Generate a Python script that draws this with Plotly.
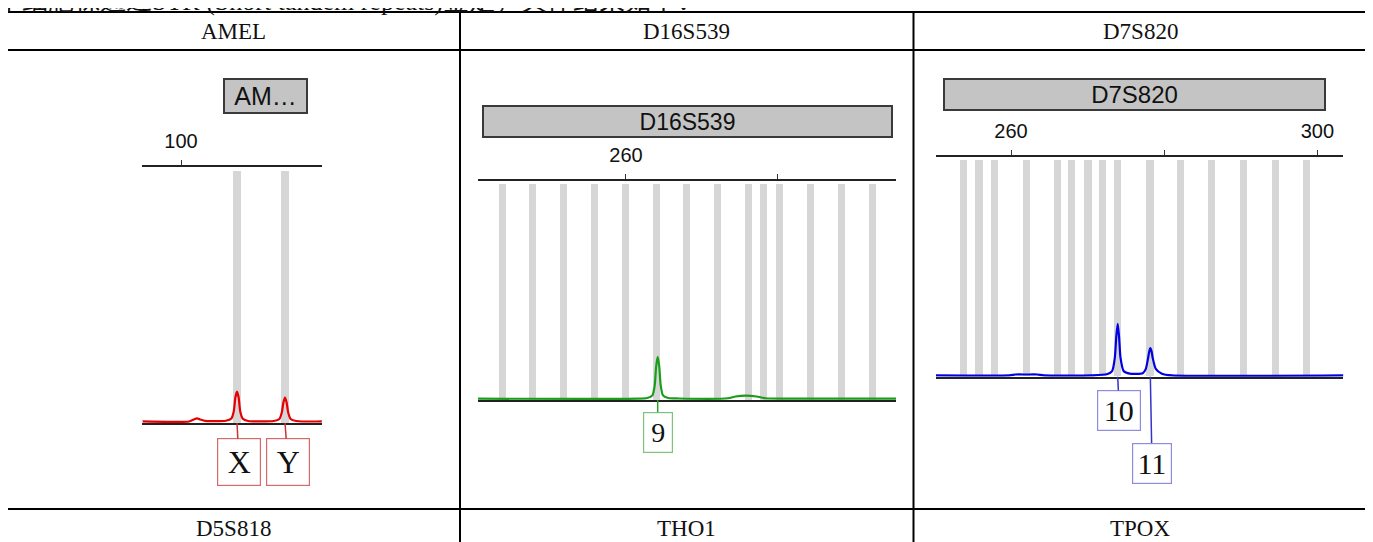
import plotly.graph_objects as go

# ---------------- data ----------------
caption = "本细胞株通过STR (Short tandem repeats)鉴定，具体结果如下："
header_row1 = ["AMEL", "D16S539", "D7S820"]
header_row3 = ["D5S818", "THO1", "TPOX"]
marker_titles = ["AM…", "D16S539", "D7S820"]

# AMEL
amel_bins = [107.0, 113.0]
amel_trace_x = [95.2, 101.0, 101.6, 102.0, 102.4, 103.0, 105.6, 106.3, 106.6, 106.8, 107.0, 107.2, 107.4,
                107.7, 108.4, 111.6, 112.3, 112.6, 112.8, 113.0, 113.2, 113.4, 113.7, 114.4, 117.6]
amel_trace_y = [0, 0, 8, 12, 8, 2, 3, 12, 40, 95, 117, 95, 40, 12, 2, 2, 10, 35, 75, 94, 75, 35, 10, 2, 0]
amel_alleles = ["X", "Y"]
amel_allele_bp = [107.0, 113.0]
amel_tickvals = [100]
amel_ticktext = ["100"]

# D16S539
d16_bins = [243.7, 247.6, 251.7, 255.8, 259.9, 264.0, 268.0, 272.1, 276.2, 278.2, 280.3, 284.4, 288.5, 292.6]
d16_trace_x = [240.4, 261.5, 262.8, 263.5, 263.8, 264.0, 264.2, 264.4, 264.6, 264.9, 265.6, 267.0,
               273.5, 274.5, 275.9, 277.3, 278.5, 281.0, 295.8]
d16_trace_y = [0, 0, 3, 15, 60, 150, 192, 150, 60, 15, 3, 1, 2, 10, 14, 10, 2, 0, 0]
d16_alleles = ["9"]
d16_allele_bp = [264.2]
d16_tickvals = [260, 280]
d16_ticktext = ["260", ""]

# D7S820
d7_bins = [253.8, 255.8, 257.8, 262.0, 266.0, 267.9, 270.0, 271.9, 273.9, 278.1, 282.1, 286.1, 290.3, 294.5, 298.5]
d7_trace_x = [250.2, 259.8, 260.6, 262.0, 263.4, 264.3, 270.5, 272.5, 273.2, 273.55, 273.75, 273.93, 274.1,
              274.3, 274.7, 275.5, 277.2, 277.6, 277.9, 278.05, 278.19, 278.35, 278.5, 278.9, 279.7, 281.0, 303.4]
d7_trace_y = [0, 0, 4, 4, 4, 0, 0, 5, 20, 80, 180, 236, 180, 80, 20, 8, 10, 30, 80, 110, 125, 110, 80,
              30, 8, 0, 0]
d7_alleles = ["10", "11"]
d7_allele_bp = [273.93, 278.19]
d7_tickvals = [260, 280, 300]
d7_ticktext = ["260", "", "300"]

bin_top = 985

# ---------------- layout helpers ----------------
W, H = 1373, 542
OFF = 8  # page body margin offset of the figure inside the window


def px(x):
    return (x - OFF) / W


def py(y):
    return 1 - (y - OFF) / H


Y_RANGE = [-6, 1000]

panels = [
    dict(bins=amel_bins, tx=amel_trace_x, ty=amel_trace_y, alleles=amel_alleles, abp=amel_allele_bp,
         tv=amel_tickvals, tt=amel_ticktext, title=marker_titles[0],
         xpx=(142, 322), xr=(95.125, 117.625), ypx=(423, 167), color="#e60000",
         box_color="#d46a6a", conn_color="#cc3333", bin_w=1.0,
         tbox=(265.5, 96, 83, 34, 25),
         aboxes=[(239, 462, 44, 48, 32), (288, 462, 44, 48, 32)]),
    dict(bins=d16_bins, tx=d16_trace_x, ty=d16_trace_y, alleles=d16_alleles, abp=d16_allele_bp,
         tv=d16_tickvals, tt=d16_ticktext, title=marker_titles[1],
         xpx=(478, 896), xr=(240.40, 295.76), ypx=(400, 181), color="#1a9e1a",
         box_color="#7cc47c", conn_color="#2e9e2e", bin_w=0.93,
         tbox=(687.5, 121.5, 409, 31, 23),
         aboxes=[(657.7, 432.2, 30, 41, 28)]),
    dict(bins=d7_bins, tx=d7_trace_x, ty=d7_trace_y, alleles=d7_alleles, abp=d7_allele_bp,
         tv=d7_tickvals, tt=d7_ticktext, title=marker_titles[2],
         xpx=(935.7, 1343.3), xr=(250.17, 303.38), ypx=(376.7, 157.3), color="#0000e0",
         box_color="#8c8ce0", conn_color="#3434c8", bin_w=0.95,
         tbox=(1134.7, 95, 381, 31.4, 24),
         aboxes=[(1119.3, 410.3, 43.3, 40.7, 30), (1152, 463, 39.4, 40.6, 30)]),
]

fig = go.Figure()
annotations = []
shapes = []
layout_axes = {}

for i, p in enumerate(panels):
    n = i + 1
    xa = "x" if n == 1 else f"x{n}"
    ya = "y" if n == 1 else f"y{n}"
    # bins
    fig.add_trace(go.Bar(x=p["bins"], y=[bin_top - Y_RANGE[0]] * len(p["bins"]), base=Y_RANGE[0],
                         width=p["bin_w"], marker=dict(color="#d6d6d6", line=dict(width=0)),
                         xaxis=xa, yaxis=ya, showlegend=False, hoverinfo="skip"))
    # trace
    fig.add_trace(go.Scatter(x=p["tx"], y=p["ty"], mode="lines",
                             line=dict(color=p["color"], width=2.2, shape="spline", smoothing=0.6),
                             xaxis=xa, yaxis=ya, showlegend=False, hoverinfo="skip"))
    x0, x1 = p["xpx"]
    yb, yt = p["ypx"]
    layout_axes[f"xaxis{'' if n == 1 else n}"] = dict(
        domain=[px(x0), px(x1)], range=list(p["xr"]), anchor=ya, side="top",
        showline=True, mirror=True, linecolor="#222222", linewidth=2,
        ticks="outside", ticklen=5, tickwidth=1.4, tickcolor="#333333",
        tickvals=p["tv"], ticktext=p["tt"], ticklabelstandoff=4,
        tickfont=dict(family="Liberation Sans, Arial", size=20, color="#111111"),
        showgrid=False, zeroline=False, fixedrange=True)
    layout_axes[f"xaxis{n + 3}"] = dict(
        overlaying=xa, range=list(p["xr"]), anchor=ya, side="top",
        showline=False, ticks="inside", ticklen=7, tickwidth=1.4, tickcolor="#333333",
        tickvals=p["tv"], showticklabels=False, showgrid=False, zeroline=False, fixedrange=True)
    layout_axes[f"yaxis{'' if n == 1 else n}"] = dict(
        domain=[py(yb), py(yt)], range=Y_RANGE, visible=False, fixedrange=True)

    # title box
    cx, cy, w, h, fs = p["tbox"]
    annotations.append(dict(xref="paper", yref="paper", x=px(cx), y=py(cy), xanchor="center",
                            yanchor="middle", text=p["title"], showarrow=False, width=w - 2,
                            height=h - 2, bgcolor="#c4c4c4", bordercolor="#3a3a3a", borderwidth=2,
                            borderpad=0,
                            font=dict(family="Liberation Sans, Arial", size=fs, color="#111111")))
    # allele labels
    scale = (x1 - x0) / (p["xr"][1] - p["xr"][0])
    for lab, bp, (bcx, bcy, bw, bh, bfs) in zip(p["alleles"], p["abp"], p["aboxes"]):
        tipx = x0 + (bp - p["xr"][0]) * scale
        annotations.append(dict(xref=xa, yref=ya, x=bp, y=Y_RANGE[0], text=lab, showarrow=True,
                                arrowhead=0, arrowwidth=1.5, arrowcolor=p["conn_color"],
                                ax=bcx - tipx, ay=bcy - yb, width=bw - 2, height=bh - 2,
                                bgcolor="white", bordercolor=p["box_color"], borderwidth=1.2,
                                borderpad=0, standoff=0,
                                font=dict(family="Liberation Serif, Times New Roman", size=bfs,
                                          color="#111111")))

# table lines
col_x = [7, 460, 913.5, 1367]
for x in col_x:
    shapes.append(dict(type="line", xref="paper", yref="paper", x0=px(x), x1=px(x), y0=py(11), y1=py(560),
                       line=dict(color="black", width=2)))
for y in [12, 50, 509]:
    shapes.append(dict(type="line", xref="paper", yref="paper", x0=px(6), x1=px(1368), y0=py(y), y1=py(y),
                       line=dict(color="black", width=2)))

# header texts
for j in range(3):
    cx = (col_x[j] + col_x[j + 1]) / 2
    annotations.append(dict(xref="paper", yref="paper", x=px(cx), y=py(32), text=header_row1[j],
                            showarrow=False, xanchor="center", yanchor="middle",
                            font=dict(family="Liberation Serif, Times New Roman", size=23, color="#111111")))
    annotations.append(dict(xref="paper", yref="paper", x=px(cx), y=py(528), text=header_row3[j],
                            showarrow=False, xanchor="center", yanchor="middle",
                            font=dict(family="Liberation Serif, Times New Roman", size=23, color="#111111")))

# caption (cut off at top of the page)
annotations.append(dict(xref="paper", yref="paper", x=px(-6), y=py(1), text=caption, showarrow=False,
                        xanchor="left", yanchor="middle",
                        font=dict(family="Liberation Serif, Noto Sans CJK SC", size=26, color="#111111")))

fig.update_layout(width=W, height=H, margin=dict(l=0, r=0, t=0, b=0), paper_bgcolor="white",
                  plot_bgcolor="rgba(0,0,0,0)", showlegend=False, annotations=annotations, shapes=shapes,
                  bargap=0, **layout_axes)

fig.write_html("out.html")
